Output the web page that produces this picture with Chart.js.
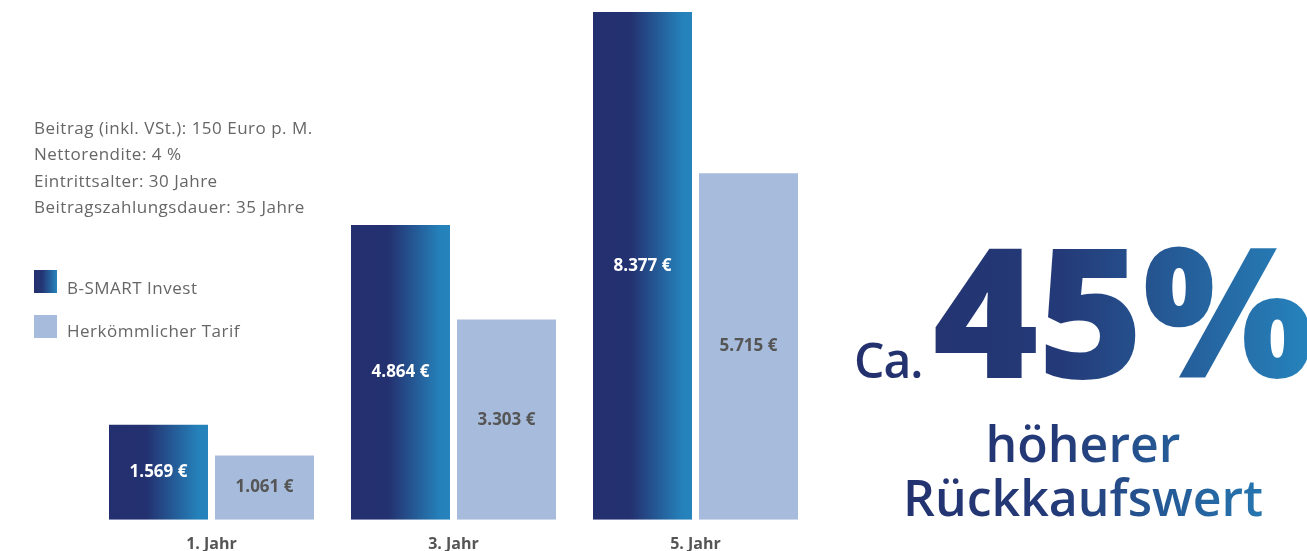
<!DOCTYPE html>
<html lang="de">
<head>
<meta charset="utf-8">
<script src="https://cdn.jsdelivr.net/npm/chart.js@4/dist/chart.umd.min.js"></script>
<style>
  html, body { margin: 0; padding: 0; background: #fff; }
  #wrap { position: relative; width: 1307px; height: 551px; overflow: hidden; font-family: "Open Sans", sans-serif; }
  #chart { position: absolute; left: 0; top: 0; }
  .info { position: absolute; left: 34px; top: 115px; color: #666; font-size: 17px; letter-spacing: 0.5px; line-height: 26.4px; white-space: nowrap; }
  .leg { position: absolute; left: 34px; color: #666; font-size: 17px; letter-spacing: 0.5px; line-height: 20px; }
  .leg i { position: absolute; left: 0; width: 23px; height: 23px; }
  .leg span { position: absolute; left: 33px; white-space: nowrap; }
  .grad { background: linear-gradient(90deg, #24306e 0%, #243575 35%, #2584bd 100%); }
  .big { position: absolute; left: 850px; width: 466px; white-space: nowrap;
         background: linear-gradient(90deg, #23306d 0%, #243a78 45%, #2686bf 100%);
         -webkit-background-clip: text; background-clip: text; color: transparent; }
</style>
</head>
<body>
<div id="wrap">
  <canvas id="chart" width="1307" height="551"></canvas>
  <div class="info">
    Beitrag (inkl. VSt.): 150 Euro p. M.<br>
    Nettorendite: 4 %<br>
    Eintrittsalter: 30 Jahre<br>
    Beitragszahlungsdauer: 35 Jahre
  </div>
  <div class="leg" style="top:270px"><i class="grad"></i><span style="top:8px">B-SMART Invest</span></div>
  <div class="leg" style="top:315px"><i style="background:#a7bcdc"></i><span style="top:6px">Herkömmlicher Tarif</span></div>
  <div class="big" style="top:193px; line-height:230px; padding-left:4px;"><span style="font-size:48px; font-weight:600; letter-spacing:-1px;">Ca.</span><span style="font-size:181px; font-weight:800; letter-spacing:-1px; margin-left:10px;">45%</span></div>
  <div class="big" style="top:416px; text-align:center; font-size:50px; font-weight:600; line-height:54px;">höherer<br>Rückkaufswert</div>
</div>
<script>
const years = ['1. Jahr', '3. Jahr', '5. Jahr'];
const bsmart = [1569, 4864, 8377];
const klassisch = [1061, 3303, 5715];

function euro(v) {
  return String(v).replace(/\B(?=(\d{3})+(?!\d))/g, '.') + ' €';
}

const barGradient = {
  id: 'barGradient',
  beforeDatasetsDraw(chart) {
    const ctx = chart.ctx;
    chart.getDatasetMeta(0).data.forEach(el => {
      const l = el.x - el.width / 2, r = el.x + el.width / 2;
      const g = ctx.createLinearGradient(l, 0, r, 0);
      g.addColorStop(0, '#232f6e');
      g.addColorStop(0.38, '#243170');
      g.addColorStop(0.9, '#2581ba');
      g.addColorStop(1, '#2683bc');
      el.options = Object.assign({}, el.options, { backgroundColor: g });
    });
  }
};

const valueLabels = {
  id: 'valueLabels',
  afterDatasetsDraw(chart) {
    const ctx = chart.ctx;
    ctx.save();
    ctx.font = 'bold 17px "Open Sans", sans-serif';
    ctx.textAlign = 'center';
    ctx.textBaseline = 'middle';
    chart.data.datasets.forEach((ds, i) => {
      ctx.fillStyle = i === 0 ? '#ffffff' : '#555555';
      chart.getDatasetMeta(i).data.forEach((el, j) => {
        ctx.fillText(euro(ds.data[j]), el.x, (el.y + el.base) / 2);
      });
    });
    ctx.restore();
  }
};

new Chart(document.querySelector('#chart'), {
  type: 'bar',
  data: {
    labels: years,
    datasets: [
      { label: 'B-SMART Invest', data: bsmart, backgroundColor: '#24306e' },
      { label: 'Herkömmlicher Tarif', data: klassisch, backgroundColor: '#a7bcdc' }
    ]
  },
  options: {
    responsive: false,
    animation: false,
    layout: { padding: { left: 90.5, right: 490.5, top: 12, bottom: -10 } },
    categoryPercentage: 0.876,
    barPercentage: 0.934,
    scales: {
      x: {
        grid: { display: false },
        border: { display: false },
        ticks: { color: '#555', padding: 7, font: { family: '"Open Sans", sans-serif', size: 16, weight: 'bold' } }
      },
      y: { display: false, min: 0, max: Math.max(...bsmart) }
    },
    plugins: {
      legend: { display: false },
      tooltip: { enabled: false }
    }
  },
  plugins: [barGradient, valueLabels]
});
</script>
</body>
</html>
